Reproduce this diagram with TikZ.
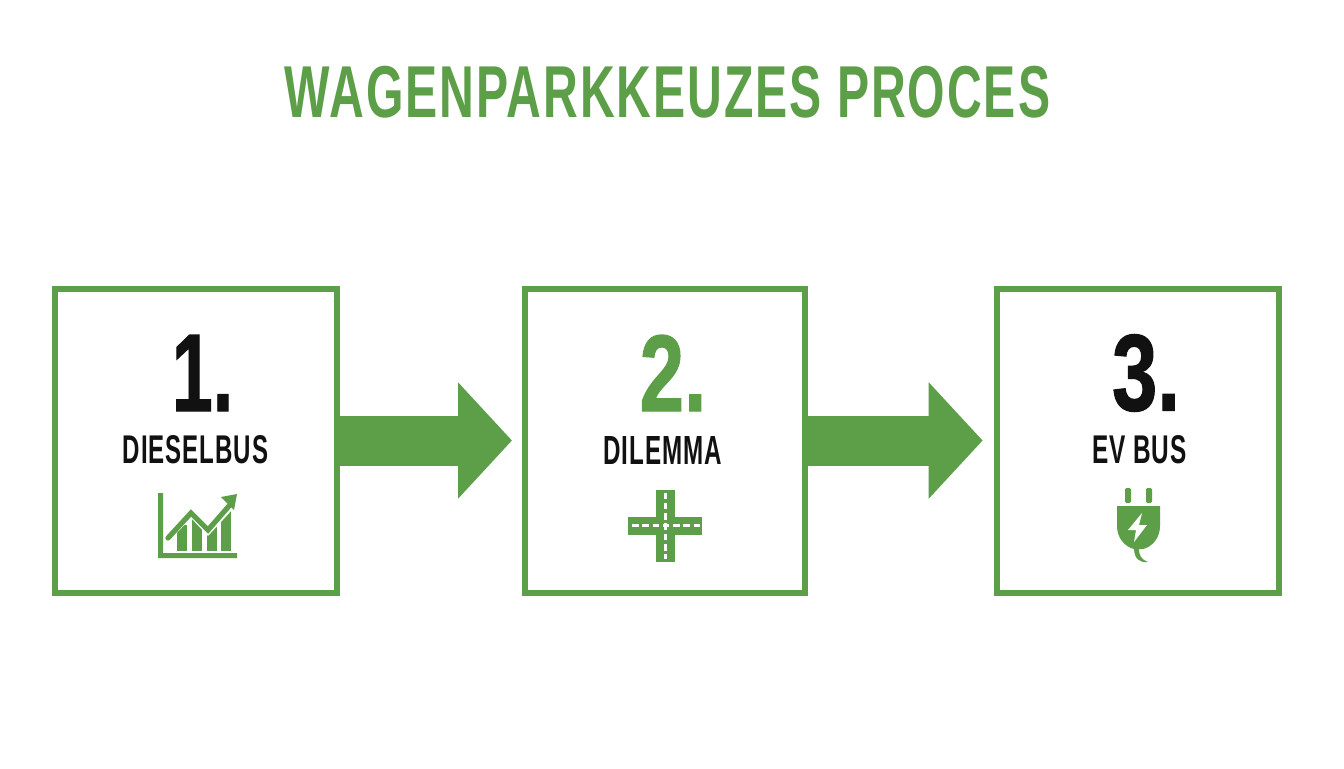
\documentclass[tikz,border=0pt]{standalone}
\usepackage{fontspec}
\usepackage{graphicx}
\usetikzlibrary{arrows.meta,calc}
\setmainfont{Liberation Sans}
\definecolor{grn}{HTML}{5C9F48}
\definecolor{ink}{HTML}{111111}
\newcommand{\fit}[3]{\resizebox{#1pt}{#2pt}{\bfseries\addfontfeatures{LetterSpace=4}#3}}
\newcommand{\fitnum}[3]{\resizebox{#1pt}{#2pt}{\bfseries\addfontfeatures{FakeBold=1.2}#3}}
\tikzset{
  box/.style={draw=grn,line width=4.5pt,fill=white,inner sep=0pt,minimum height=228pt},
  txt/.style={inner sep=0pt,anchor=center},
  flow/.style={draw=grn,line width=37.5pt,-{Triangle[length=40.5pt,width=85pt,fill=grn]}},
  dashline/.style={white,line width=2pt,dash pattern=on 5pt off 2.7pt}
}
\begin{document}
\begin{tikzpicture}[x=0.75pt,y=-0.75pt]
\useasboundingbox (0,0) rectangle (1344,768);
\fill[white] (0,0) rectangle (1344,768);
\node[txt,text=grn] (title) at (667.5,92.5) {\fit{574}{38.5}{WAGENPARKKEUZES PROCES}};
\node[box,minimum width=211pt] (b1) at (196,441) {};
\node[box,minimum width=210pt] (b2) at (665,441) {};
\node[box,minimum width=212pt] (b3) at (1138,441) {};
\coordinate (t1) at ($(b2.west)+(-10,-0.5)$);
\coordinate (t2) at ($(b3.west)+(-11,-0.5)$);
\draw[flow] (b1.east |- t1) -- (t1);
\draw[flow] (b2.east |- t2) -- (t2);
\node[txt,text=ink] (n1) at (202.5,373) {\fitnum{46}{57}{1.}};
\node[txt,text=grn] (n2) at (673,373) {\fitnum{50}{57}{2.}};
\node[txt,text=ink] (n3) at (1146,373) {\fitnum{51}{57}{3.}};
\node[txt,text=ink] (l1) at (195.5,450) {\fit{109}{21}{DIESELBUS}};
\node[txt,text=ink] (l2) at (662.5,450) {\fit{89}{21}{DILEMMA}};
\node[txt,text=ink] (l3) at (1139.5,450) {\fit{71}{21}{EV BUS}};
% chart icon
\fill[grn] (177,525) rectangle (187,551);
\fill[grn] (192,515) rectangle (202,551);
\fill[grn] (207,525) rectangle (217,551);
\fill[grn] (221,505) rectangle (231,551);
\fill[white] (172,500) -- (172,538) -- (191,518) -- (208,536) -- (232,510) -- (232,500) -- cycle;
\draw[grn,line width=3.9pt,line cap=round,line join=miter] (168,538) -- (191,513) -- (208,530) -- (229,506);
\fill[grn] (237,494) -- (234,510) -- (221,497) -- cycle;
\fill[grn] (158,493) -- (163,493) -- (163,553) -- (237,553) -- (237,558) -- (158,558) -- cycle;
% crossroad icon
\fill[grn] (656,490) rectangle (675,562);
\fill[grn] (628,517) rectangle (702,535);
\draw[dashline] (632,525.7) -- (700,525.7);
\draw[dashline] (665.3,492.5) -- (665.3,559);
% plug icon
\fill[grn] (1125,488) [rounded corners=1pt] rectangle (1131,503);
\fill[grn] (1146,488) [rounded corners=1pt] rectangle (1152,503);
\fill[grn] (1117,506) -- (1160,506) -- (1160,526) .. controls (1160,538) and (1152,547) .. (1143,549) -- (1134,549) .. controls (1125,547) and (1117,538) .. (1117,526) -- cycle;
\fill[white] (1142,513) -- (1128,530) -- (1136,530) -- (1134,542) -- (1147,525) -- (1139,525) -- cycle;
\fill[grn] (1134,548) -- (1139,548) .. controls (1139,556) and (1141,559) .. (1148,562) .. controls (1140,563) and (1134,559) .. (1134,548) -- cycle;
\end{tikzpicture}
\end{document}
